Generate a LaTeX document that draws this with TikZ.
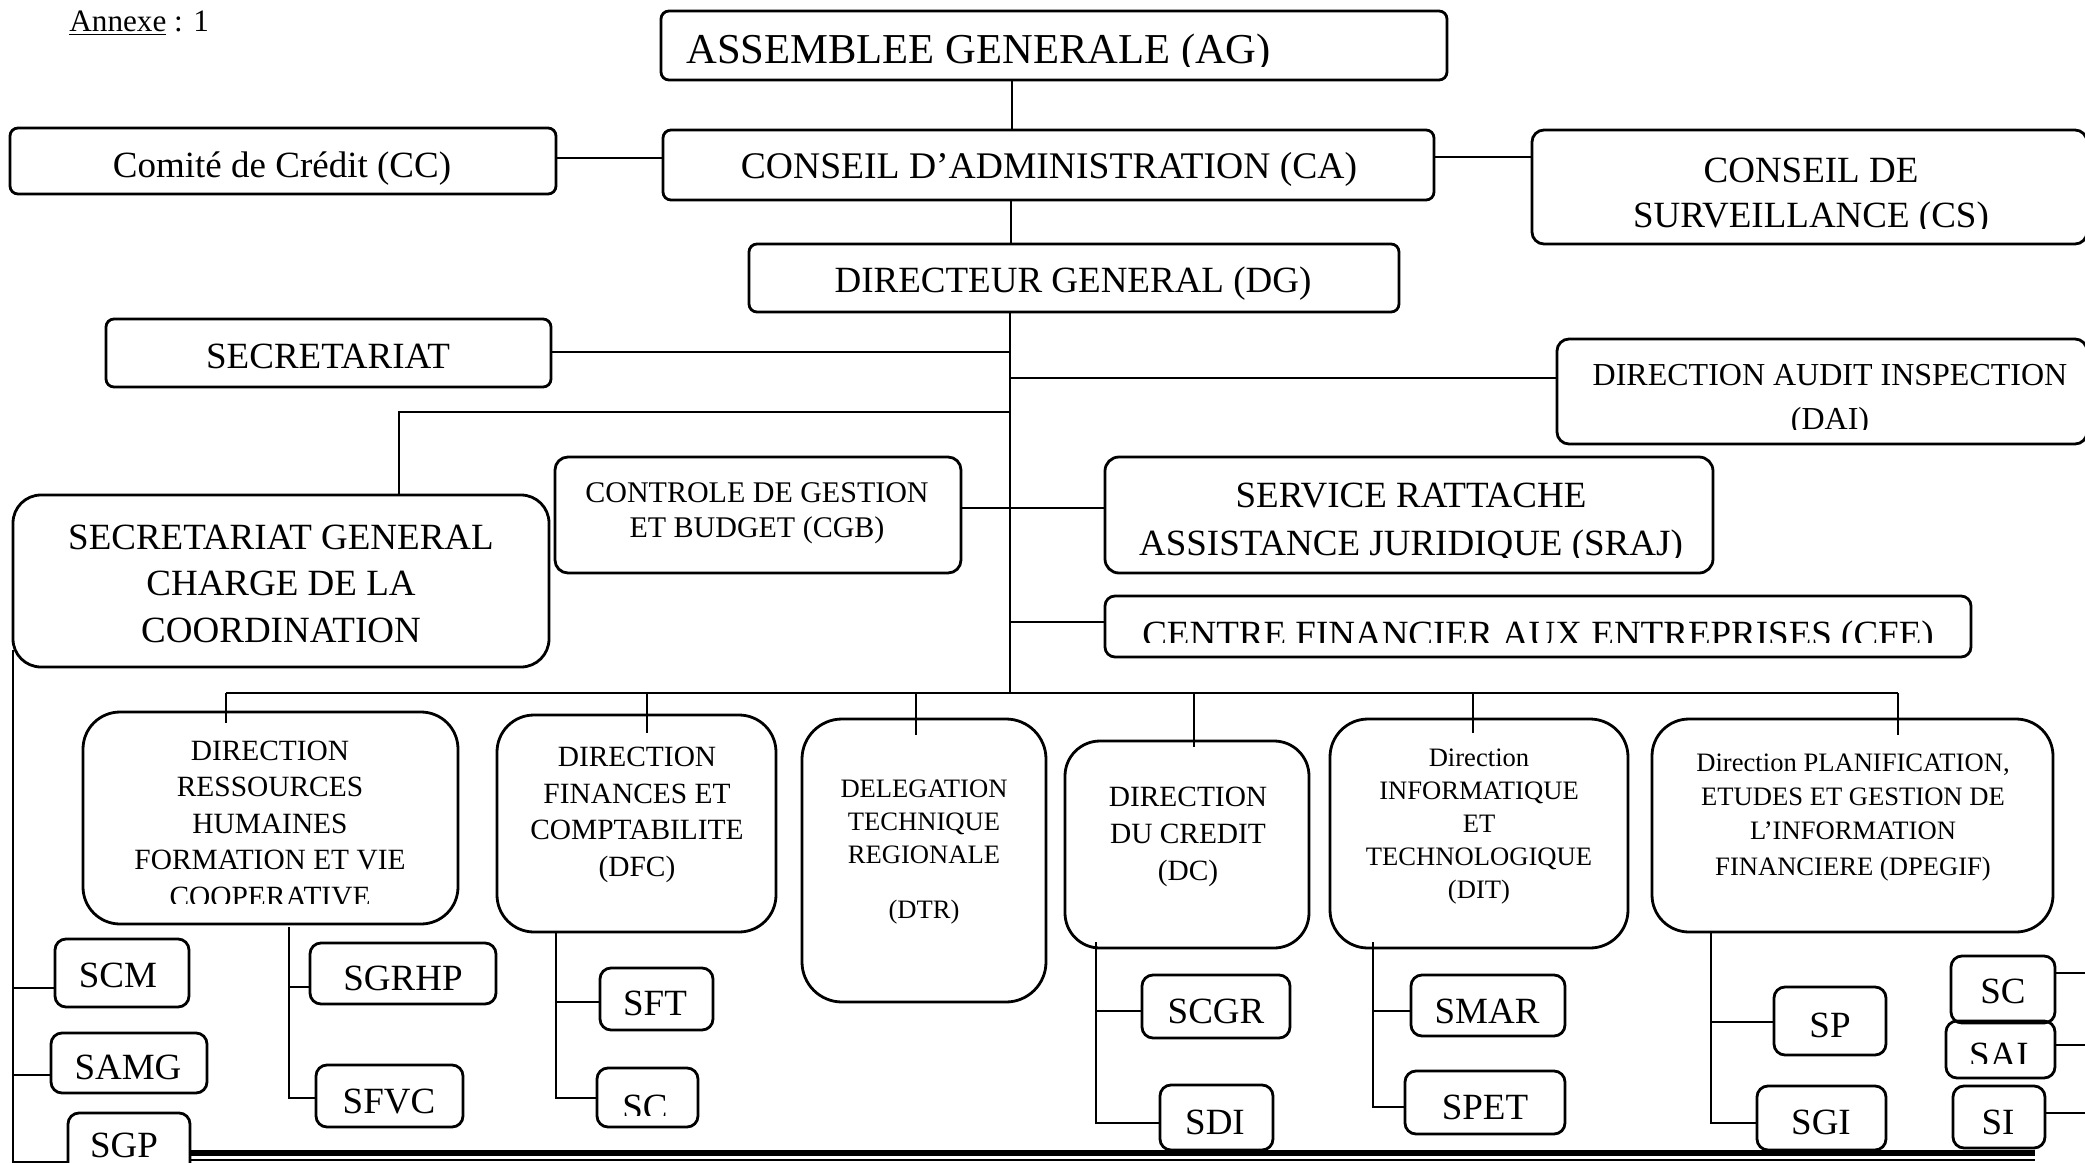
\documentclass[tikz,border=0pt]{standalone}
\usepackage{fontspec}
\setmainfont{Liberation Serif}
\usetikzlibrary{fit}
\begin{document}
\begin{tikzpicture}[x=0.5pt,y=-0.5pt,
  box/.style={draw, line width=1.4pt, rounded corners=#1, inner sep=0pt},
  box/.default=4pt,
  lbl/.style={inner sep=0pt, align=center},
  big/.style={font=\fontsize{18.5}{22}\selectfont},
  ln/.style={line width=0.9pt},
  thinln/.style={line width=0.6pt}]
\useasboundingbox (0,0) rectangle (2085,1163);

% ---------- boxes ----------
\node[box, fit={(661,11) (1447,80)}] (ag) {};
\node[box, fit={(663,130) (1434,200)}] (ca) {};
\node[box, fit={(10,128) (556,194)}] (cc) {};
\node[box=6pt, fit={(1532,130) (2087,244)}] (cs) {};
\node[box, fit={(749,244) (1399,312)}] (dg) {};
\node[box, fit={(106,319) (551,387)}] (sec) {};
\node[box=6pt, fit={(1557,339) (2087,444)}] (dai) {};
\node[box=14pt, fit={(13,495) (549,667)}] (sg) {};
\node[box=6.5pt, fit={(555,457) (961,573)}] (cgb) {};
\node[box=7pt, fit={(1105,457) (1713,573)}] (sraj) {};
\node[box=5pt, fit={(1105,596) (1971,657)}] (cfe) {};
\node[box=18.5pt, fit={(83,712) (458,924)}] (drh) {};
\node[box=18.5pt, fit={(497,715) (776,932)}] (dfc) {};
\node[box=20pt, fit={(802,719) (1046,1002)}] (dtr) {};
\node[box=17.5pt, fit={(1065,741) (1309,948)}] (dc) {};
\node[box=19pt, fit={(1330,719) (1628,948)}] (dit) {};
\node[box=18.5pt, fit={(1652,719) (2053,932)}] (dpe) {};
\node[box=5.5pt, fit={(55,939) (189,1007)}] (scm) {};
\node[box=5.5pt, fit={(51,1033) (207,1093)}] (samg) {};
\node[box=5.5pt, fit={(68,1113) (190,1211)}] (sgp) {};
\node[box=5.5pt, fit={(310,943) (496,1004)}] (sgrhp) {};
\node[box=5.5pt, fit={(316,1065) (463,1127)}] (sfvc) {};
\node[box=5.5pt, fit={(600,968) (713,1030)}] (sft) {};
\node[box=5.5pt, fit={(597,1068) (698,1127)}] (scA) {};
\node[box=5.5pt, fit={(1142,975) (1290,1038)}] (scgr) {};
\node[box=5.5pt, fit={(1160,1085) (1273,1150)}] (sdi) {};
\node[box=5.5pt, fit={(1411,975) (1565,1036)}] (smar) {};
\node[box=5.5pt, fit={(1405,1071) (1565,1134)}] (spet) {};
\node[box=5.5pt, fit={(1774,987) (1886,1055)}] (sp) {};
\node[box=5.5pt, fit={(1757,1086) (1886,1150)}] (sgi) {};
\node[box=5.5pt, fit={(1951,956) (2055,1023)}] (scB) {};
\node[box=5.5pt, fit={(1946,1021) (2055,1078)}] (sai) {};
\node[box=5.5pt, fit={(1953,1086) (2045,1148)}] (si) {};

% ---------- texts ----------
\node[lbl, anchor=base west, font=\fontsize{15.6}{18}\selectfont] (annexe) at (69,31) {\underline{Annexe} : 1};
\begin{scope}
  \clip (661,11) rectangle (1447,66);
  \node[lbl, anchor=base west, font=\fontsize{21.3}{26}\selectfont] (agT) at (686,63) {ASSEMBLEE GENERALE (AG)};
\end{scope}
\node[lbl, anchor=base, font=\fontsize{18.8}{22}\selectfont] (caT) at (1049,178) {CONSEIL D’ADMINISTRATION (CA)};
\node[lbl, anchor=base, big] (ccT) at (282,177) {Comité de Crédit (CC)};
\node[lbl, anchor=base, big] (dgT) at (1073,292) {DIRECTEUR GENERAL (DG)};
\node[lbl, anchor=base, big] (secT) at (328,368) {SECRETARIAT};
\begin{scope}
  \clip (1533,131) rectangle (2085,228);
  \node[lbl, anchor=north, font=\fontsize{18.5}{22.5}\selectfont] (csT) at (1811,150.5) {\strut CONSEIL DE\\SURVEILLANCE (CS)};
\end{scope}
\begin{scope}
  \clip (1557,340) rectangle (2085,429);
  \node[lbl, anchor=north, font=\fontsize{16}{22}\selectfont] (daiT) at (1830,354.2) {\strut DIRECTION AUDIT INSPECTION\\(DAI)};
\end{scope}
\node[lbl, anchor=north, font=\fontsize{18.5}{23.25}\selectfont] (sgT) at (281,516.5) {\strut SECRETARIAT GENERAL\\CHARGE DE LA\\COORDINATION};
\node[lbl, anchor=north, font=\fontsize{15}{17.5}\selectfont] (cgbT) at (757,477.5) {\strut CONTROLE DE GESTION\\ET BUDGET (CGB)};
\begin{scope}
  \clip (1105,457) rectangle (1713,557);
  \node[lbl, anchor=north, font=\fontsize{18.5}{24}\selectfont] (srajT) at (1411,473.4) {\strut SERVICE RATTACHE\\ASSISTANCE JURIDIQUE (SRAJ)};
\end{scope}
\begin{scope}
  \clip (1105,596) rectangle (1971,642);
  \node[lbl, anchor=base, big] (cfeT) at (1538,646.5) {CENTRE FINANCIER AUX ENTREPRISES (CFE)};
\end{scope}
\begin{scope}
  \clip (83,712) rectangle (458,903);
  \node[lbl, anchor=north, font=\fontsize{14.7}{18.25}\selectfont] (drhT) at (270,734.5) {\strut DIRECTION\\RESSOURCES\\HUMAINES\\FORMATION ET VIE\\COOPERATIVE};
\end{scope}
\node[lbl, anchor=north, font=\fontsize{14.7}{18.35}\selectfont] (dfcT) at (637,740.3) {\strut DIRECTION\\FINANCES ET\\COMPTABILITE\\(DFC)};
\node[lbl, anchor=north, font=\fontsize{13.3}{16.5}\selectfont] (dtrT) at (924,773.9) {\strut DELEGATION\\TECHNIQUE\\REGIONALE\\[11pt](DTR)};
\node[lbl, anchor=north, font=\fontsize{14.7}{18.5}\selectfont] (dcT) at (1188,780.1) {\strut DIRECTION\\DU CREDIT\\(DC)};
\node[lbl, anchor=north, font=\fontsize{13.3}{16.5}\selectfont] (ditT) at (1479,742.9) {\strut Direction\\INFORMATIQUE\\ET\\TECHNOLOGIQUE\\(DIT)};
\node[lbl, anchor=north, font=\fontsize{13.3}{17}\selectfont] (dpeT) at (1853,747.2) {\strut Direction PLANIFICATION,\\ETUDES ET GESTION DE\\L’INFORMATION\\[1pt]FINANCIERE (DPEGIF)};

\node[lbl, anchor=base, big] (scmT) at (118,987) {SCM};
\node[lbl, anchor=base, big] (samgT) at (128,1079) {SAMG};
\node[lbl, anchor=base, big] (sgpT) at (124,1157) {SGP};
\node[lbl, anchor=base, big] (sgrhpT) at (403,990) {SGRHP};
\node[lbl, anchor=base, big] (sfvcT) at (389,1113) {SFVC};
\node[lbl, anchor=base, big] (sftT) at (655,1015) {SFT};
\begin{scope}
  \clip (597,1068) rectangle (698,1115);
  \node[lbl, anchor=base, big] (scAT) at (645,1119) {SC};
\end{scope}
\node[lbl, anchor=base, big] (scgrT) at (1216,1023) {SCGR};
\node[lbl, anchor=base, big] (sdiT) at (1215,1134) {SDI};
\node[lbl, anchor=base, big] (smarT) at (1487,1023) {SMAR};
\node[lbl, anchor=base, big] (spetT) at (1485,1119) {SPET};
\node[lbl, anchor=base, big] (spT) at (1830,1037) {SP};
\node[lbl, anchor=base, big] (sgiT) at (1821,1134) {SGI};
\node[lbl, anchor=base, big] (scBT) at (2003,1003) {SC};
\begin{scope}
  \clip (1946,1021) rectangle (2055,1063);
  \node[lbl, anchor=base, big] (saiT) at (1999,1067) {SAI};
\end{scope}
\node[lbl, anchor=base, big] (siT) at (1998,1134) {SI};

% ---------- coordinates ----------
\coordinate (tA) at (1012,0);
\coordinate (tB) at (1011,0);
\coordinate (t) at (1010,0);
\coordinate (bus) at (0,693);
\coordinate (yCC) at (0,158);
\coordinate (yCS) at (0,157);
\coordinate (ySec) at (0,352);
\coordinate (yDai) at (0,378);
\coordinate (sgk) at (399,412);
\coordinate (yCgb) at (0,508);
\coordinate (yCfe) at (0,622);
\coordinate (d1) at (226,723);
\coordinate (d2) at (647,733);
\coordinate (d3) at (916,735);
\coordinate (d4) at (1194,747);
\coordinate (d5) at (1473,733);
\coordinate (d6) at (1898,735);

% ---------- top connectors ----------
\draw[thinln] (ag.south -| tA) -- (ca.north -| tA);
\draw[thinln] (ca.south -| tB) -- (dg.north -| tB);
\draw[ln] (cc.east |- yCC) -- (ca.west |- yCC);
\draw[ln] (ca.east |- yCS) -- (cs.west |- yCS);
\draw[thinln] (dg.south -| t) -- (bus -| t);
\draw[ln] (sec.east |- ySec) -- (t |- ySec);
\draw[ln] (t |- yDai) -- (dai.west |- yDai);
\draw[ln] (t |- sgk) -- (sgk) -- (sg.north -| sgk);
\draw[line width=1.3pt] (cgb.east |- yCgb) -- (sraj.west |- yCgb);
\draw[ln] (t |- yCfe) -- (cfe.west |- yCfe);

% ---------- bus and drops ----------
\draw[ln] (bus -| d1) -- (bus -| d6);
\foreach \d in {d1,d2,d3,d4,d5,d6} \draw[thinln] (bus -| \d) -- (\d);

% ---------- sub connectors ----------
\coordinate (lv) at (13,650);
\coordinate (lh1) at (13,988);
\coordinate (lh2) at (13,1075);
\coordinate (lh3) at (13,1162);
\draw[ln] (lv) -- (lh3) -- (lh3 -| sgp.west);
\draw[ln] (lh1) -- (lh1 -| scm.west);
\draw[ln] (lh2) -- (lh2 -| samg.west);

\coordinate (rv) at (289,927);
\coordinate (rh1) at (289,987);
\coordinate (rh2) at (289,1098);
\draw[ln] (rv) -- (rh2) -- (rh2 -| sfvc.west);
\draw[ln] (rh1) -- (rh1 -| sgrhp.west);

\coordinate (fv) at (556,933);
\coordinate (fh1) at (556,1002);
\coordinate (fh2) at (556,1098);
\draw[ln] (fv) -- (fh2) -- (fh2 -| scA.west);
\draw[ln] (fh1) -- (fh1 -| sft.west);

\coordinate (cv) at (1096,942);
\coordinate (ch1) at (1096,1011);
\coordinate (ch2) at (1096,1123);
\draw[ln] (cv) -- (ch2) -- (ch2 -| sdi.west);
\draw[ln] (ch1) -- (ch1 -| scgr.west);

\coordinate (iv) at (1373,942);
\coordinate (ih1) at (1373,1011);
\coordinate (ih2) at (1373,1107);
\draw[ln] (iv) -- (ih2) -- (ih2 -| spet.west);
\draw[ln] (ih1) -- (ih1 -| smar.west);

\coordinate (pv) at (1711,933);
\coordinate (ph1) at (1711,1022);
\coordinate (ph2) at (1711,1123);
\draw[ln] (pv) -- (ph2) -- (ph2 -| sgi.west);
\draw[ln] (ph1) -- (ph1 -| sp.west);

\coordinate (e1) at (2090,973);
\coordinate (e2) at (2090,1045);
\coordinate (e3) at (2090,1113);
\draw[ln] (scB.east |- e1) -- (e1);
\draw[ln] (sai.east |- e2) -- (e2);
\draw[ln] (si.east |- e3) -- (e3);

% ---------- bottom rule ----------
\coordinate (b1) at (190,1153);
\coordinate (b2) at (2035,1153);
\coordinate (b3) at (190,1160);
\coordinate (b4) at (2035,1160);
\draw[line width=2.6pt] (b1) -- (b2);
\draw[line width=1pt] (b3) -- (b4);
\end{tikzpicture}
\end{document}
